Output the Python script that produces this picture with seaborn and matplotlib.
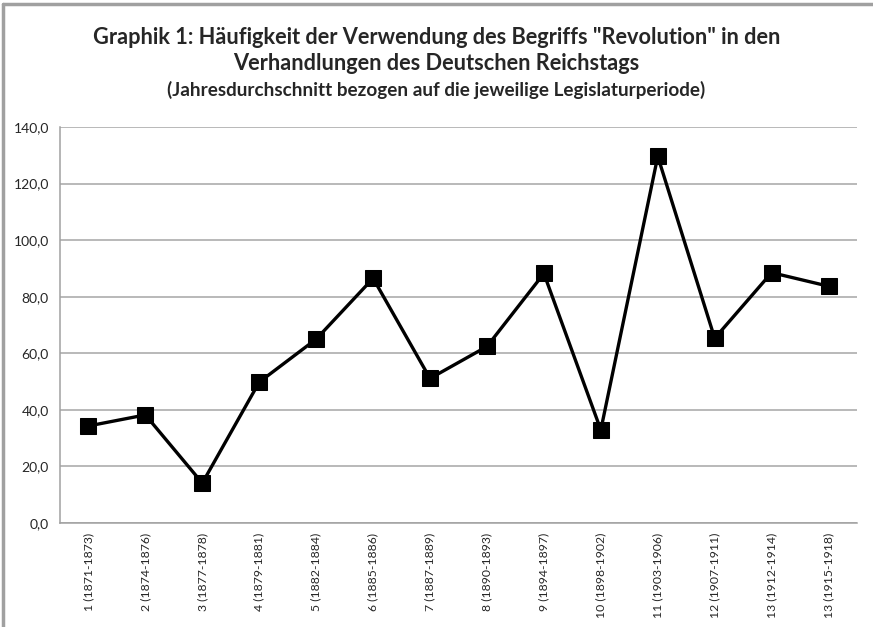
import numpy as np
import pandas as pd
import matplotlib
matplotlib.use("Agg")
import matplotlib.pyplot as plt
import seaborn as sns

# Legislaturperioden und Jahresdurchschnitte
perioden = [
    "1 (1871-1873)", "2 (1874-1876)", "3 (1877-1878)", "4 (1879-1881)",
    "5 (1882-1884)", "6 (1885-1886)", "7 (1887-1889)", "8 (1890-1893)",
    "9 (1894-1897)", "10 (1898-1902)", "11 (1903-1906)", "12 (1907-1911)",
    "13 (1912-1914)", "13 (1915-1918)",
]
werte = [34.3, 38.2, 14.1, 49.8, 65.0, 86.5, 51.1, 62.4, 88.2, 32.9, 129.6, 65.3, 88.5, 83.7]
y_ticks = [0, 20, 40, 60, 80, 100, 120, 140]

sns.set_style("white")
plt.rcParams["font.family"] = ["Lato", "DejaVu Sans"]

df = pd.DataFrame({"pos": np.arange(len(perioden)), "wert": werte})

fig = plt.figure(figsize=(8.73, 6.27), dpi=100)
ax = fig.add_axes([0.0687, 0.1659, 0.913, 0.6316])

sns.lineplot(data=df, x="pos", y="wert", ax=ax, color="black", linewidth=2.4,
             marker="s", markersize=11, markeredgecolor="black", sort=False, zorder=3)

ax.set_xlim(-0.5, len(perioden) - 0.5)
ax.set_ylim(0, 140)
ax.set_yticks(y_ticks)
ax.set_yticklabels([f"{v:.1f}".replace(".", ",") for v in y_ticks], fontsize=10)
ax.set_xticks(np.arange(len(perioden)))
ax.set_xticklabels(perioden, rotation=90, fontsize=8.8)
ax.set_xticks(np.arange(-0.5, len(perioden)), minor=True)
ax.tick_params(axis="x", which="major", length=0, pad=7)
ax.tick_params(axis="x", which="minor", length=5, color="#a0a0a0", direction="out")
ax.tick_params(axis="y", length=5, color="#a0a0a0", direction="out", pad=3)
ax.grid(axis="y", color="#a6a6a6", linewidth=1.1)
ax.set_axisbelow(True)
ax.set_xlabel("")
ax.set_ylabel("")
for s in ["top", "right"]:
    ax.spines[s].set_visible(False)
for s in ["left", "bottom"]:
    ax.spines[s].set_color("#a0a0a0")
    ax.spines[s].set_linewidth(1.1)

fig.text(0.5, 0.940, 'Graphik 1: Häufigkeit der Verwendung des Begriffs "Revolution" in den',
         ha="center", va="center", fontsize=15.7, fontweight="bold")
fig.text(0.5, 0.898, "Verhandlungen des Deutschen Reichstags",
         ha="center", va="center", fontsize=15.7, fontweight="bold")
fig.text(0.5, 0.857, "(Jahresdurchschnitt bezogen auf die jeweilige Legislaturperiode)",
         ha="center", va="center", fontsize=13.6, fontweight="bold")

# grauer Rahmen des Diagramms (oben und links)
fig.add_artist(plt.Line2D([0.004, 1.0], [0.994, 0.994], color="#a0a0a0", linewidth=2.5))
fig.add_artist(plt.Line2D([0.004, 0.004], [0.0, 0.994], color="#a0a0a0", linewidth=2.5))

fig.savefig("out.png", dpi=100)
